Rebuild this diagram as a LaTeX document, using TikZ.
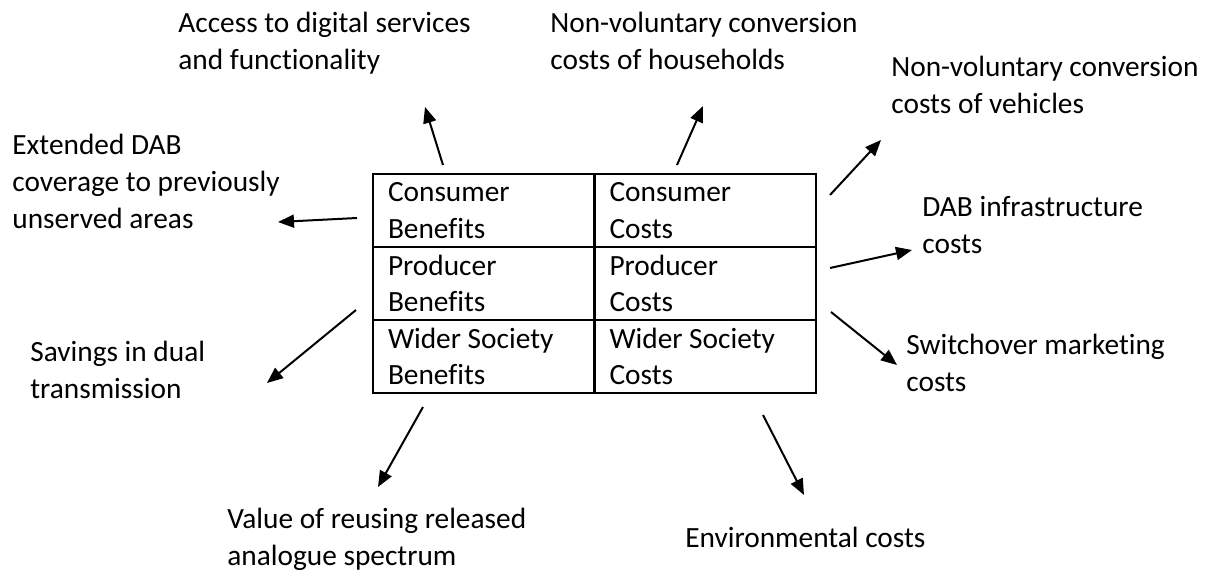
\documentclass[tikz,border=0pt]{standalone}
\usepackage{fontspec}
\setmainfont{Carlito}[Ligatures=CommonOff]
\usetikzlibrary{positioning,arrows.meta}

\begin{document}
\begin{tikzpicture}[
  font=\fontsize{16.7}{20.8}\selectfont,
  txt/.style={align=flush left,inner sep=0pt,anchor=base west},
  cell/.style={draw,line width=0.045cm,outer sep=0pt,inner xsep=0.3cm,
    inner ysep=0.05cm,minimum height=1.46cm,text width=3.83cm,align=flush left},
  arr/.style={line width=0.04cm,-{Triangle[length=0.32cm,width=0.26cm]}}]
  \useasboundingbox (0,0) rectangle (24.18,-11.46);
  % the benefits / costs table
  \node[cell,anchor=north west] (cb) at (7.46,-3.48) {Consumer\\Benefits};
  \node[cell,right=0pt of cb] (cc) {Consumer\\Costs};
  \node[cell,below=0pt of cb] (pb) {Producer\\Benefits};
  \node[cell,right=0pt of pb] (pc) {Producer\\Costs};
  \node[cell,below=0pt of pb] (wb) {Wider Society\\Benefits};
  \node[cell,right=0pt of wb] (wc) {Wider Society\\Costs};
  % labels round the table (anchored on their last line)
  \node[txt] (acc) at (3.56,-1.39) {Access to digital services\\and functionality};
  \node[txt] (hou) at (11.00,-1.39) {Non-voluntary conversion\\costs of households};
  \node[txt] (veh) at (17.82,-2.27) {Non-voluntary conversion\\costs of vehicles};
  \node[txt] (ext) at (0.24,-4.56) {Extended DAB\\coverage to previously\\unserved areas};
  \node[txt] (inf) at (18.44,-5.07) {DAB infrastructure\\costs};
  \node[txt] (sav) at (0.60,-7.97) {Savings in dual\\transmission};
  \node[txt] (swi) at (18.12,-7.83) {Switchover marketing\\costs};
  \node[txt] (val) at (4.54,-11.30) {Value of reusing released\\analogue spectrum};
  \node[txt] (env) at (13.70,-10.94) {Environmental costs};
  % arrow ends
  \coordinate (acc-s) at (8.86,-3.30);  \coordinate (acc-e) at (8.50,-2.14);
  \coordinate (hou-s) at (13.54,-3.30); \coordinate (hou-e) at (14.06,-2.12);
  \coordinate (veh-s) at (16.60,-3.90); \coordinate (veh-e) at (17.62,-2.80);
  \coordinate (ext-s) at (7.14,-4.36);  \coordinate (ext-e) at (5.56,-4.44);
  \coordinate (inf-s) at (16.60,-5.36); \coordinate (inf-e) at (18.24,-5.00);
  \coordinate (sav-s) at (7.12,-6.20);  \coordinate (sav-e) at (5.34,-7.66);
  \coordinate (swi-s) at (16.62,-6.24); \coordinate (swi-e) at (17.94,-7.30);
  \coordinate (val-s) at (8.46,-8.14);  \coordinate (val-e) at (7.56,-9.74);
  \coordinate (env-s) at (15.26,-8.30); \coordinate (env-e) at (16.08,-9.90);
  \draw[arr] (acc-s) -- (acc-e);
  \draw[arr] (hou-s) -- (hou-e);
  \draw[arr] (veh-s) -- (veh-e);
  \draw[arr] (ext-s) -- (ext-e);
  \draw[arr] (inf-s) -- (inf-e);
  \draw[arr] (sav-s) -- (sav-e);
  \draw[arr] (swi-s) -- (swi-e);
  \draw[arr] (val-s) -- (val-e);
  \draw[arr] (env-s) -- (env-e);
\end{tikzpicture}
\end{document}
